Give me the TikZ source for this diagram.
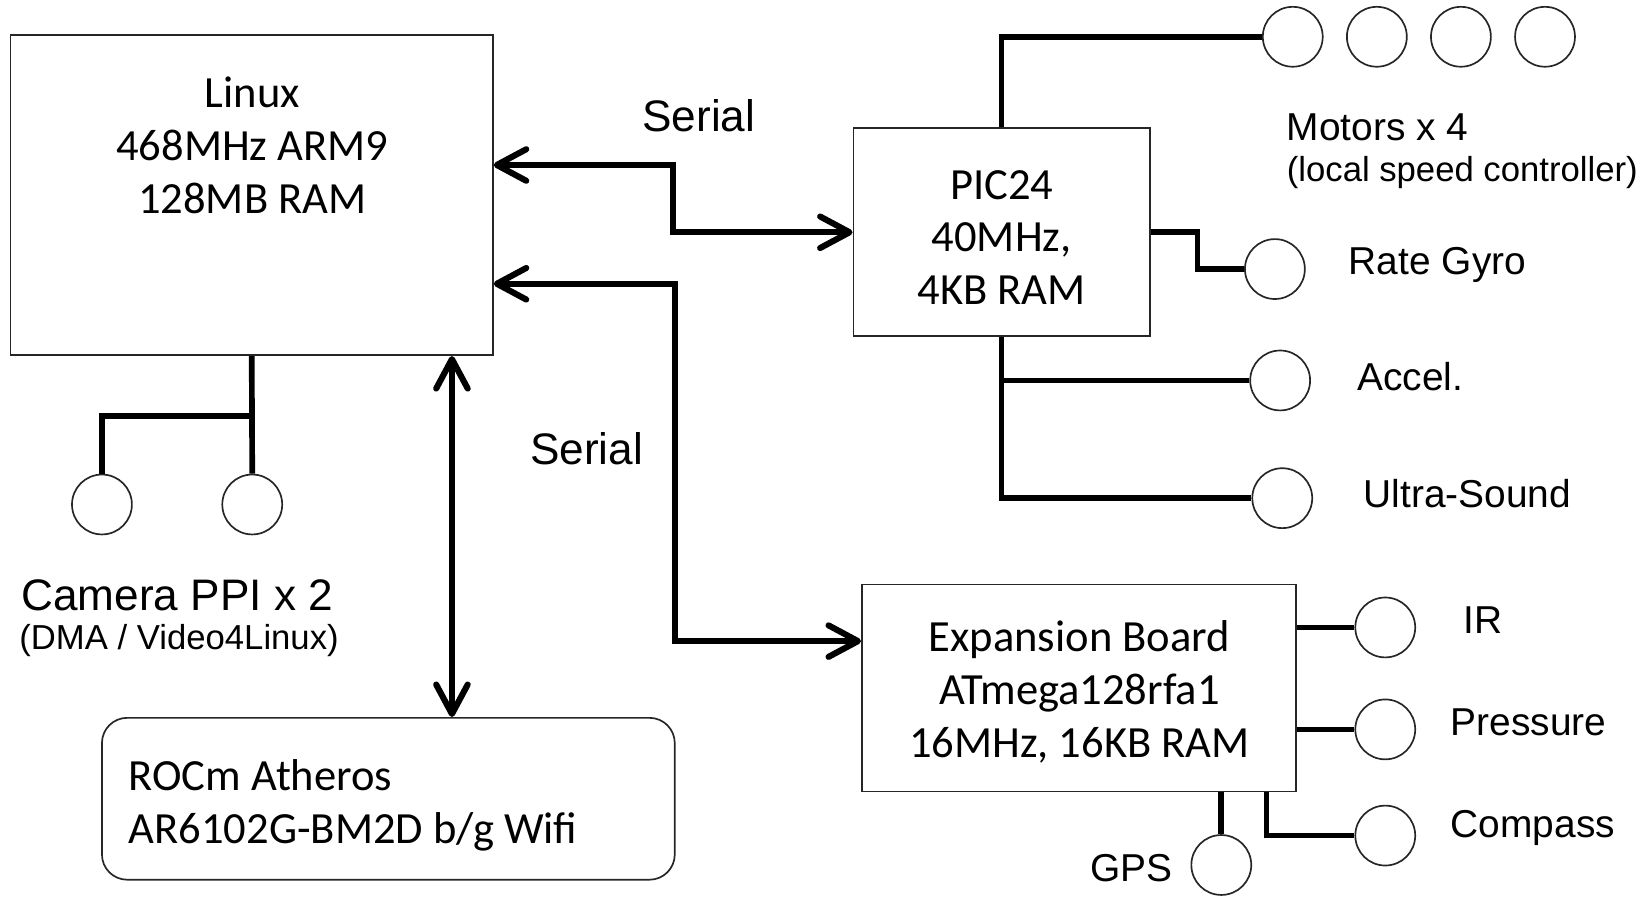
\documentclass[tikz,border=0pt]{standalone}
\usepackage{fontspec}
\setmainfont{Carlito}
\newfontfamily\arialfont{Liberation Sans}
\usetikzlibrary{arrows.meta,calc}
\begin{document}
\begin{tikzpicture}[x=0.5pt,y=-0.5pt,
  box/.style={draw=black!85, line width=0.8pt, inner sep=0pt},
  boxtext/.style={font=\fontsize{21.2}{25.2}\selectfont, align=center, inner sep=0pt},
  sensor/.style={circle, draw=black!85, line width=0.8pt, minimum size=28.5pt, inner sep=0pt, fill=white},
  wire/.style={line width=2.7pt},
  link/.style={line width=2.9pt, line join=miter, {Straight Barb[length=14pt,width=15pt,line cap=round,line join=round]}-{Straight Barb[length=14pt,width=15pt,line cap=round,line join=round]}},
  lbl/.style={font=\arialfont\fontsize{18.5}{22}\selectfont, inner sep=0pt},
  biglbl/.style={font=\arialfont\fontsize{21}{25}\selectfont, inner sep=0pt},
  smalllbl/.style={font=\arialfont\fontsize{16.5}{20}\selectfont, inner sep=0pt}]

\useasboundingbox (0,0) rectangle (1568,854);

% main processor boards
\node[box, minimum width=229.5pt, minimum height=152.5pt] (linux) at (239.5,185.5) {};
\node[boxtext] (linuxtxt) at (240,138) {Linux\\468MHz ARM9\\128MB RAM};

\node[box, minimum width=141pt, minimum height=99pt] (pic) at (953,221) {};
\node[boxtext] (pictxt) at (953,226) {PIC24\\40MHz,\\4KB RAM};

\node[box, minimum width=206.5pt, minimum height=98.5pt] (exp) at (1026.5,654.5) {};
\node[boxtext] (exptxt) at (1027,658) {Expansion Board\\ATmega128rfa1\\16MHz, 16KB RAM};

\node[box, rounded corners=12pt, minimum width=272.5pt, minimum height=77pt] (rocm) at (369.5,760) {};
\node[boxtext, align=left, anchor=west] (rocmtxt) at (122,766) {ROCm Atheros\\AR6102G-BM2D b/g Wifi};

% sensors and actuators
\node[sensor] (cam1) at (97,480) {};
\node[sensor] (cam2) at (240,480) {};
\node[sensor] (m1) at (1230,35) {};
\node[sensor] (m2) at (1310,35) {};
\node[sensor] (m3) at (1390,35) {};
\node[sensor] (m4) at (1470,35) {};
\node[sensor] (gyro) at (1213,256) {};
\node[sensor] (acc) at (1218,362) {};
\node[sensor] (us) at (1220,474) {};
\node[sensor] (ir) at (1318,597) {};
\node[sensor] (pres) at (1318,694) {};
\node[sensor] (comp) at (1318,795) {};
\node[sensor] (gps) at (1162,823) {};

% serial and wifi links
\draw[link] (linux.east |- 0,157) -- (640,157) |- (pic.west);
\draw[link] (linux.east |- 0,270) -- (642,270) |- (exp.west |- 0,610);
\draw[link] (linux.south -| 430,0) -- (rocm.north -| 430,0);

% wiring
\draw[wire] (linux.south) -- (cam2.north);
\draw[wire] (linux.south |- 0,396) -| (cam1.north);
\draw[wire] (pic.north) |- (m1.west);
\draw[wire] (pic.east) -| ($(pic.east)!.5!(gyro.west)$) |- (gyro.west);
\draw[wire] (pic.south) |- (us.west);
\draw[wire] (pic.south |- acc.west) -- (acc.west);
\draw[wire] (exp.east |- ir.west) -- (ir.west);
\draw[wire] (exp.east |- pres.west) -- (pres.west);
\draw[wire] (exp.south -| 1205,0) |- (comp.west);
\draw[wire] (exp.south -| gps.north) -- (gps.north);

% labels
\node[biglbl] (ser1) at (665,110) {Serial};
\node[biglbl] (ser2) at (558,427) {Serial};
\node[biglbl, anchor=west] (camlbl) at (20,566) {Camera PPI x 2};
\node[smalllbl, anchor=west] (camsub) at (18,609) {(DMA / Video4Linux)};
\node[lbl, anchor=west] (motlbl) at (1224,121) {Motors x 4};
\node[smalllbl, anchor=west] (motsub) at (1224,164) {(local speed controller)};
\node[lbl, anchor=west] (gyrolbl) at (1283,252) {Rate Gyro};
\node[lbl, anchor=west] (acclbl) at (1291,358) {Accel.};
\node[lbl, anchor=west] (uslbl) at (1297,470) {Ultra-Sound};
\node[lbl, anchor=west] (irlbl) at (1392,590) {IR};
\node[lbl, anchor=west] (preslbl) at (1380,687) {Pressure};
\node[lbl, anchor=west] (complbl) at (1380,788) {Compass};
\node[lbl, anchor=east] (gpslbl) at (1116,826) {GPS};
\end{tikzpicture}
\end{document}
